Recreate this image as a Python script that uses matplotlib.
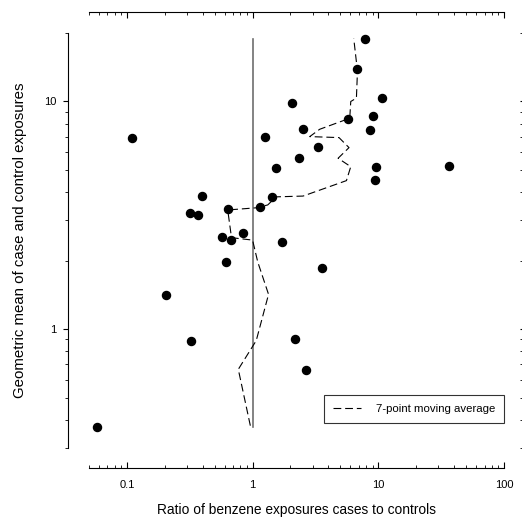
#Library Imports
import matplotlib
matplotlib.use('Agg')
from matplotlib import pyplot as plt
from matplotlib.ticker import FixedLocator, FixedFormatter, LogLocator, NullFormatter

plt.rcParams['font.family'] = ['Liberation Sans', 'DejaVu Sans']

#Data
ratio = [7.8, 6.78, 10.7, 2.06, 9.1, 5.79, 8.67, 2.53, 1.26, 3.31, 2.34, 1.55, 9.55,
         9.38, 0.397, 1.44, 1.14, 0.632, 0.317, 0.367, 0.832, 0.569, 0.668, 1.71,
         0.617, 3.59, 0.205, 0.325, 2.19, 2.64, 0.109, 36.5, 0.058]
geoMean = [18.9, 13.9, 10.4, 9.8, 8.65, 8.36, 7.5, 7.55, 7.01, 6.29, 5.63, 5.1, 5.17,
           4.5, 3.84, 3.79, 3.45, 3.37, 3.23, 3.16, 2.64, 2.55, 2.47, 2.42,
           1.98, 1.86, 1.41, 0.89, 0.90, 0.66, 6.94, 5.22, 0.37]

#7-point moving average curve
maRatio = [0.96, 0.77, 1.07, 1.34, 1.10, 1.0, 0.68, 0.64, 0.70, 1.07, 1.32, 1.54, 2.52,
           5.58, 6.04, 4.79, 5.85, 4.87, 2.85, 3.42, 5.93, 6.04, 6.70, 6.83, 6.38]
maGeoMean = [0.376, 0.665, 0.89, 1.42, 1.97, 2.46, 2.52, 3.22, 3.35, 3.41, 3.51, 3.81, 3.84,
             4.49, 5.17, 5.63, 6.27, 6.94, 7.01, 7.55, 8.44, 10.0, 10.35, 13.6, 18.9]

xTicks = [0.1, 1, 10, 100]
xTickLabels = ['0.1', '1', '10', '100']
yTicks = [1, 10]
yTickLabels = ['1', '10']

fig = plt.figure(figsize=(5.22, 5.18), dpi=100)
ax = fig.add_axes([89/522, 70/518, 415/522, 415/518])
ax.set_xscale('log')
ax.set_yscale('log')
ax.set_xlim(0.05, 100)
ax.set_ylim(0.3, 20)

#reference line at ratio 1
ax.plot([1, 1], [min(geoMean), max(geoMean)], color='#6e6e6e', lw=1.2, zorder=1)
ax.plot(maRatio, maGeoMean, color='black', lw=0.8, dashes=(7, 3.5),
        label='7-point moving average', zorder=2)
ax.plot(ratio, geoMean, 'o', color='black', ms=5.8, ls='none', zorder=3)

#offset axes
ax.spines['left'].set_position(('outward', 15))
ax.spines['bottom'].set_position(('outward', 14.4))
ax.spines['top'].set_position(('outward', 15))
ax.spines['right'].set_position(('outward', 11.5))
ax.spines['right'].set_visible(False)
for s in ['left', 'bottom', 'top']:
    ax.spines[s].set_linewidth(0.8)

ax.xaxis.set_major_locator(FixedLocator(xTicks))
ax.xaxis.set_major_formatter(FixedFormatter(xTickLabels))
ax.xaxis.set_minor_locator(LogLocator(subs=range(2, 10)))
ax.xaxis.set_minor_formatter(NullFormatter())
ax.yaxis.set_major_locator(FixedLocator(yTicks))
ax.yaxis.set_major_formatter(FixedFormatter(yTickLabels))
ax.yaxis.set_minor_locator(LogLocator(subs=range(2, 10)))
ax.yaxis.set_minor_formatter(NullFormatter())

ax.tick_params(axis='x', which='both', direction='in', top=True, bottom=True,
               labeltop=False, labelsize=8, pad=9)
ax.tick_params(axis='x', which='major', length=4, width=0.8)
ax.tick_params(axis='x', which='minor', length=2.5, width=0.6)
ax.tick_params(axis='y', which='both', direction='out', left=True, right=True,
               labelright=False, labelsize=8, pad=5)
ax.tick_params(axis='y', which='major', length=3.5, width=0.8)
ax.tick_params(axis='y', which='minor', length=2.5, width=0.6)

ax.set_xlabel('Ratio of benzene exposures cases to controls', fontsize=9.9, labelpad=9)
ax.set_ylabel('Geometric mean of case and control exposures', fontsize=10.8, labelpad=12)

leg = ax.legend(loc='lower right', bbox_to_anchor=(1, 0.06), borderaxespad=0,
                fontsize=8.2, fancybox=False, edgecolor='black', handlelength=2.4,
                handletextpad=1.3, borderpad=0.8)
leg.get_frame().set_linewidth(0.8)

plt.savefig('out.png', dpi=100)
